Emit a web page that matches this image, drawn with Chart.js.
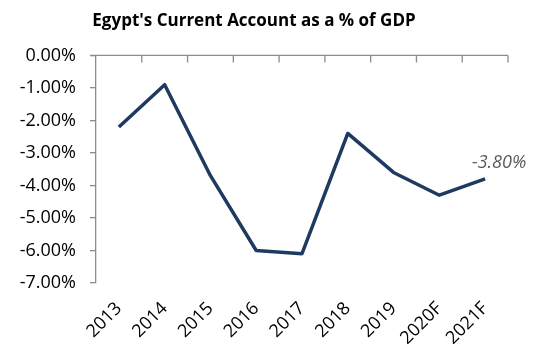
<!DOCTYPE html>
<html>
<head>
<meta charset="utf-8">
<script src="https://cdn.jsdelivr.net/npm/chart.js@4"></script>
<style>
  html, body { margin: 0; padding: 0; background: #fff; }
  #wrap { width: 544px; height: 349px; }
</style>
</head>
<body>
<div id="wrap"><canvas id="grafico"></canvas></div>
<script>
var anos = ['2013', '2014', '2015', '2016', '2017', '2018', '2019', '2020F', '2021F'];
var contaCorrente = [-2.2, -0.9, -3.7, -6.0, -6.1, -2.4, -3.6, -4.3, -3.8];
var tituloGrafico = "Egypt's Current Account as a % of GDP";
var rotuloFinal = '-3.80%';

var corEixo = '#8c8c8c';
var fonte = "'Open Sans', sans-serif";

// linha do eixo x no zero (topo) com marcas para baixo
var eixoTopo = {
    id: 'eixoTopo',
    afterDatasetsDraw: function (chart) {
        var ctx = chart.ctx;
        var x = chart.scales.x;
        var y = chart.scales.y;
        var y0 = y.getPixelForValue(0);
        var passo = x.getPixelForValue(1) - x.getPixelForValue(0);
        ctx.save();
        ctx.strokeStyle = corEixo;
        ctx.lineWidth = 1.3;
        ctx.beginPath();
        ctx.moveTo(chart.chartArea.left - 6, y0);
        ctx.lineTo(chart.chartArea.right, y0);
        for (var i = 0; i < anos.length; i++) {
            var px = x.getPixelForValue(i) + passo / 2;
            ctx.moveTo(px, y0);
            ctx.lineTo(px, y0 + 7);
        }
        ctx.stroke();

        // rotulo do ultimo ponto
        var meta = chart.getDatasetMeta(0);
        var ult = meta.data[meta.data.length - 1];
        ctx.font = "italic 18px " + fonte;
        ctx.fillStyle = '#595959';
        ctx.textAlign = 'center';
        ctx.textBaseline = 'middle';
        ctx.fillText(rotuloFinal, ult.x + 14, ult.y - 16);
        ctx.restore();
    }
};

var contexto = document.getElementById('grafico').getContext('2d');
var grafico = new Chart(contexto, {
    type: 'line',
    data: {
        labels: anos,
        datasets: [{
            label: 'Current Account',
            data: contaCorrente,
            borderColor: '#1f3a60',
            borderWidth: 3.5,
            borderJoinStyle: 'round',
            borderCapStyle: 'butt',
            pointRadius: 0,
            tension: 0,
            clip: false
        }]
    },
    options: {
        responsive: true,
        maintainAspectRatio: false,
        animation: false,
        layout: { padding: { left: 0, right: 36, top: 0, bottom: 0 } },
        plugins: {
            legend: { display: false },
            tooltip: { enabled: false },
            title: {
                display: true,
                text: tituloGrafico,
                color: '#000',
                font: { family: fonte, size: 17, weight: 'bold' },
                padding: { top: 11, bottom: 24 }
            }
        },
        scales: {
            x: {
                offset: true,
                grid: { display: false, drawTicks: false },
                border: { display: false },
                ticks: {
                    color: '#000',
                    font: { family: fonte, size: 18 },
                    maxRotation: 45,
                    minRotation: 45,
                    padding: 15,
                    autoSkip: false
                },
                afterFit: function (scale) { scale.height = 66; }
            },
            y: {
                min: -7,
                max: 0,
                grid: {
                    drawOnChartArea: false,
                    drawTicks: true,
                    tickLength: 6,
                    color: corEixo,
                    lineWidth: 1.3
                },
                border: { display: true, color: corEixo, width: 1.3 },
                ticks: {
                    stepSize: 1,
                    color: '#000',
                    font: { family: fonte, size: 18 },
                    padding: 14,
                    callback: function (v) { return v.toFixed(2) + '%'; }
                },
                afterFit: function (scale) { scale.width = 96; }
            }
        }
    },
    plugins: [eixoTopo]
});
</script>
</body>
</html>
